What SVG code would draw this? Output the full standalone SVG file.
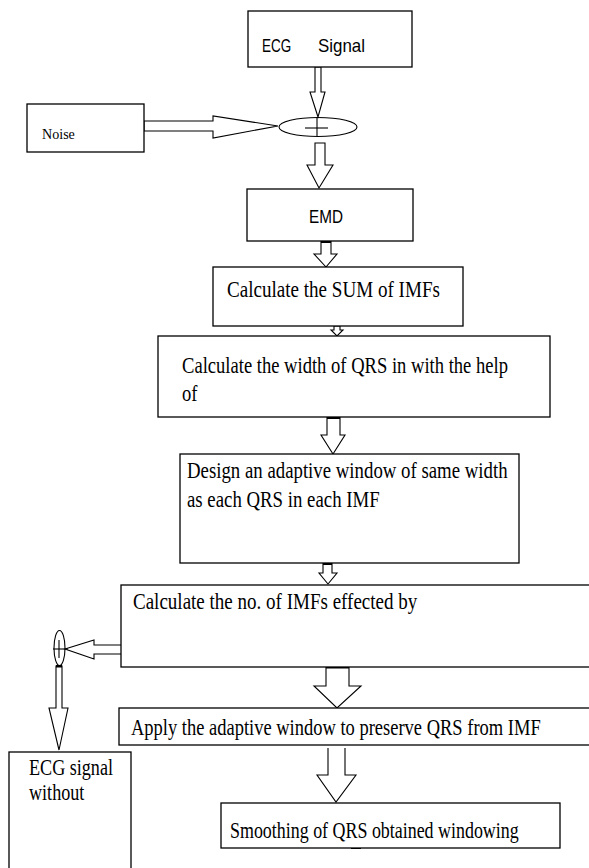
<svg xmlns="http://www.w3.org/2000/svg" width="589" height="868" viewBox="0 0 589 868">
<style>
.box{fill:#fff;stroke:#000;stroke-width:1.3}
.arr{fill:#fff;stroke:#000;stroke-width:1.1;stroke-linejoin:miter}
.ln{fill:none;stroke:#000;stroke-width:1.1}
.bar{fill:#000}
.t{font-family:"Liberation Serif","Times New Roman",serif;font-size:24px;fill:#000}
.s{font-family:"Liberation Sans",Arial,sans-serif;font-size:18px;fill:#000}
</style>
<rect width="589" height="868" fill="#fff"/>
<g id="connectors">
<polygon class="arr" points="315,67 321,67 321,92 325,92 318,117 310,92 315,92"/>
<polygon class="arr" points="144,121 213,121 213,116 278,126 213,138 213,131 144,131"/>
<polygon class="arr" points="315,143 325,143 325,165 333,165 319,188 307,165 315,165"/>
<polygon class="arr" points="321,241 331,241 331,254 337,254 326,267 314,254 321,254"/>
<rect class="bar" x="321" y="240.5" width="10" height="2.5"/>
<polygon class="arr" points="334,326 340,326 340,330 343,330 337,336 331,330 334,330"/>
<polygon class="arr" points="327,417 340,417 340,435 345,435 333,454 321,435 327,435"/>
<rect class="bar" x="327" y="416.5" width="13" height="2.5"/>
<polygon class="arr" points="323,563 332,563 332,573 337,573 328,584 319,573 323,573"/>
<rect class="bar" x="323" y="562.5" width="9" height="2.5"/>
<polygon class="arr" points="123,645 94,645 94,640 65,649 94,659 94,654 123,654"/>
<rect class="bar" x="121" y="644" width="3" height="11"/>
<polygon class="arr" points="56,666 62,666 62,708 68,708 59,750 49,708 56,708"/>
<rect class="bar" x="56" y="665" width="6" height="2.5"/>
<polygon class="arr" points="326,667 349,667 349,686 361,686 337,708 314,686 326,686"/>
<rect class="bar" x="326" y="666" width="23" height="2.5"/>
<path class="arr" d="M328,748 V775 H317 L336,802 L356,775 H345 V748"/>
<rect class="bar" x="351" y="846.5" width="10" height="2.5"/>
</g>
<g id="ecg-signal">
<rect class="box" x="248" y="11" width="164" height="56"/>
<text class="s" transform="translate(262,52) scale(0.75,1)">ECG</text>
<text class="s" transform="translate(318,52) scale(0.94,1)">Signal</text>
</g>
<g id="noise">
<rect class="box" x="27" y="104" width="117" height="48"/>
<text class="t" style="font-size:15px" transform="translate(42,139) scale(0.94,1)">Noise</text>
</g>
<g id="sum-junction">
<ellipse class="ln" cx="318" cy="127" rx="39" ry="9.5"/>
<line class="ln" x1="317" y1="117" x2="317" y2="136"/>
<line class="ln" x1="305" y1="128" x2="328" y2="128"/>
</g>
<g id="emd">
<rect class="box" x="247" y="189" width="166" height="52"/>
<text class="s" transform="translate(309,223) scale(0.85,1)">EMD</text>
</g>
<g id="sum-imfs">
<rect class="box" x="213" y="267" width="250" height="59"/>
<text class="t" transform="translate(227,297) scale(0.795,1)">Calculate the SUM of IMFs</text>
</g>
<g id="qrs-width">
<rect class="box" x="158" y="336" width="392" height="81"/>
<text class="t" transform="translate(182,373) scale(0.774,1)">Calculate the width of QRS in with the help</text>
<text class="t" transform="translate(182,401) scale(0.774,1)">of</text>
</g>
<g id="adaptive-window">
<rect class="box" x="180" y="454" width="339" height="109"/>
<text class="t" transform="translate(187,478) scale(0.784,1)">Design an adaptive window of same width</text>
<text class="t" transform="translate(187,507) scale(0.784,1)">as each QRS in each IMF</text>
</g>
<g id="imfs-affected">
<rect class="box" x="121" y="585" width="475" height="82"/>
<text class="t" transform="translate(133,609) scale(0.793,1)">Calculate the no. of IMFs effected by</text>
</g>
<g id="junction-2">
<ellipse class="ln" cx="59.5" cy="648" rx="5.5" ry="17.5"/>
<line class="ln" x1="53" y1="649" x2="68" y2="649"/>
<line class="ln" x1="59" y1="640" x2="59" y2="658"/>
</g>
<g id="apply-window">
<rect class="box" x="119" y="708" width="477" height="37"/>
<text class="t" transform="translate(131,735) scale(0.771,1)">Apply the adaptive window to preserve QRS from IMF</text>
</g>
<g id="ecg-without">
<rect class="box" x="9" y="752" width="122" height="130"/>
<text class="t" transform="translate(29,775) scale(0.755,1)">ECG signal</text>
<text class="t" transform="translate(29,800) scale(0.755,1)">without</text>
</g>
<g id="smoothing">
<rect class="box" x="221" y="803" width="339" height="45"/>
<text class="t" transform="translate(230,838) scale(0.747,1)">Smoothing of QRS obtained windowing</text>
</g>
</svg>
